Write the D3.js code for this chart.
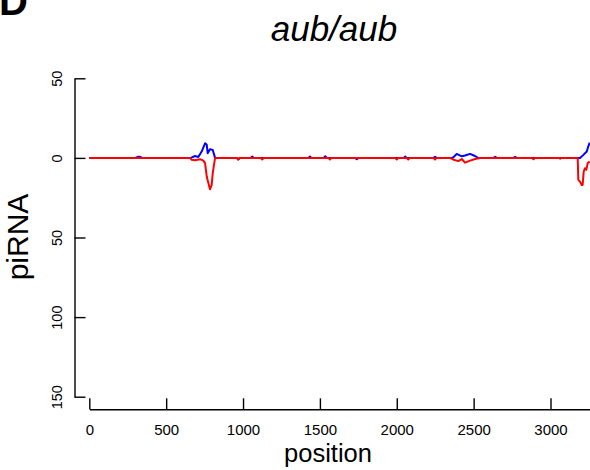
<!DOCTYPE html>
<html>
<head>
<meta charset="utf-8">
<script src="https://cdn.jsdelivr.net/npm/d3@7"></script>
<style>
  html, body { margin: 0; padding: 0; background: #fff; }
  svg { display: block; font-family: "Liberation Sans", Arial, sans-serif; }
</style>
</head>
<body>
<svg id="chart" width="590" height="470"></svg>
<script>
// ---- data ----
const xTicks = [0, 500, 1000, 1500, 2000, 2500, 3000];
const yTicks = [50, 0, -50, -100, -150];
const yTickLabels = ["50", "0", "50", "100", "150"];

// blue: sense piRNA (positive)
const blueX = [0, 300, 315, 330, 345, 400, 650, 660, 688, 709, 731, 753, 764, 770, 785, 803, 818, 830,
  960, 969, 978, 1050, 1060, 1070, 1425, 1435, 1445, 1525, 1535, 1545, 1730, 1740, 1750,
  2045, 2055, 2065, 2240, 2249, 2258, 2360, 2369, 2390, 2423, 2444, 2477, 2509, 2529,
  2630, 2640, 2650, 2760, 2770, 2780, 3192, 3214, 3236, 3245, 3255];
const blueY = [0, 0, 0.7, 0.7, 0, 0, 0, 0, 1.2, 0.6, 4, 9.2, 8.2, 3, 5.5, 5, 0, 0,
  0, -1, 0, 0, 0.8, 0, 0, 0.8, 0, 0, 1, 0, 0, -0.8, 0,
  0, 0.8, 0, 0, 0.7, 0, 0, 0.5, 2.5, 1, 1.5, 2.5, 1.2, 0,
  0, 0.7, 0, 0, 0.6, 0, 0, 1.9, 4, 7, 9.6];

// red: antisense piRNA (negative)
const redX = [0, 655, 666, 688, 720, 742, 753, 764, 775, 785, 796, 803, 811, 818, 824,
  960, 969, 978, 1115, 1125, 1135, 1555, 1565, 1575, 1990, 2000, 2010, 2065, 2075, 2085,
  2240, 2249, 2258, 2347, 2366, 2400, 2423, 2444, 2477, 2510, 2542,
  2880, 2889, 2898, 3055, 3063, 3071, 3177, 3181, 3192, 3203, 3209, 3216, 3224, 3233, 3242, 3255];
const redY = [0, 0, -1.2, -1.5, -0.8, -1.7, -3.3, -11.7, -16, -19.7, -17, -9.6, -4.4, -0.3, 0,
  0, -1, 0, 0, -1, 0, 0, -1, 0, 0, -1, 0, 0, -1, 0,
  0, -1, 0, 0, -1, -2, -0.7, -3, -1.7, -0.7, 0,
  0, -0.8, 0, 0, -0.5, 0, 0, -13.8, -14.9, -17, -17, -8.6, -6.5, -7.5, -3.3, -2.3];

// ---- drawing ----
const svg = d3.select("#chart");
const x = d3.scaleLinear().domain([0, 3255]).range([89.3, 589.7]);
const y = d3.scaleLinear().domain([-150, 50]).range([396.7, 78.3]);

// x axis
const xAxis = d3.axisBottom(x).tickValues(xTicks).tickSizeInner(-11).tickSizeOuter(0).tickFormat(d3.format("d"));
const gx = svg.append("g").attr("transform", "translate(0,409.3)").call(xAxis);
gx.selectAll("path, line").attr("stroke", "#000").attr("stroke-width", 1.4);
gx.selectAll("text").attr("y", 26).attr("dy", 0)
  .attr("font-size", 15).attr("font-family", "Liberation Sans, Arial, sans-serif").attr("fill", "#000");

// y axis
const yAxis = d3.axisLeft(y).tickValues(yTicks).tickSizeInner(-11).tickSizeOuter(0)
  .tickFormat((d, i) => yTickLabels[i]);
const gy = svg.append("g").attr("transform", "translate(74.5,0)").call(yAxis);
gy.selectAll("path, line").attr("stroke", "#000").attr("stroke-width", 1.4);
gy.selectAll("text").attr("x", null).attr("dy", 0)
  .attr("transform", "translate(-13,0) rotate(-90)")
  .attr("text-anchor", "middle")
  .attr("font-size", 14.5).attr("font-family", "Liberation Sans, Arial, sans-serif").attr("fill", "#000");

// lines
const line = d3.line().x(d => x(d[0])).y(d => y(d[1]));
svg.append("path").datum(blueX.map((v, i) => [v, blueY[i]]))
  .attr("d", line).attr("fill", "none").attr("stroke", "#0000FF").attr("stroke-width", 2).attr("stroke-linejoin", "round");
svg.append("path").datum(redX.map((v, i) => [v, redY[i]]))
  .attr("d", line).attr("fill", "none").attr("stroke", "#FF0000").attr("stroke-width", 2).attr("stroke-linejoin", "round");

// texts
svg.append("text").attr("x", 334).attr("y", 41).attr("text-anchor", "middle")
  .attr("font-size", 35).attr("font-style", "italic").text("aub/aub");
svg.append("text").attr("x", 328).attr("y", 461.5).attr("text-anchor", "middle")
  .attr("font-size", 25.5).text("position");
svg.append("text").attr("transform", "translate(27.5,237) rotate(-90)").attr("text-anchor", "middle")
  .attr("font-size", 30).text("piRNA");
svg.append("text").attr("x", -1).attr("y", 15).attr("font-size", 40).attr("font-weight", "bold").text("D");
</script>
</body>
</html>
